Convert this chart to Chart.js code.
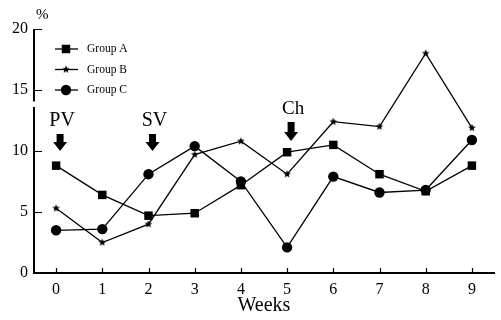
<!DOCTYPE html>
<html><head><meta charset="utf-8">
<script src="https://cdn.jsdelivr.net/npm/chart.js@4/dist/chart.umd.min.js"></script>
<style>html,body{margin:0;padding:0;background:#fff}</style>
</head><body>
<canvas id="c" width="501" height="320" style="width:501px;height:320px;display:block"></canvas>
<script>
const weeks = [0,1,2,3,4,5,6,7,8,9];
const groupA = [8.8,6.4,4.7,4.9,7.2,9.9,10.5,8.1,6.7,8.8];
const groupB = [5.3,2.5,4.0,9.7,10.8,8.1,12.4,12.0,18.0,11.9];
const groupC = [3.5,3.6,8.1,10.4,7.5,2.1,7.9,6.6,6.8,10.9];
const seriesNames = ['Group A','Group B','Group C'];
const yTicks = [0,5,10,15,20];
const eventLabels = ['PV','SV','Ch'];
const eventWeeks = [0,2,5];

const SERIF = '"Liberation Serif", "DejaVu Serif", serif';

function starImg(r){
  const c=document.createElement('canvas'); const s=Math.ceil(r*2+2);
  c.width=s;c.height=s; const x=c.getContext('2d'); x.fillStyle='#000';
  x.beginPath();
  for(let i=0;i<10;i++){const a=-Math.PI/2+i*Math.PI/5; const rr=i%2?r*0.45:r; x.lineTo(s/2+rr*Math.cos(a), s/2+rr*Math.sin(a));}
  x.closePath(); x.fill(); return c;
}
const star = starImg(4);
const styles = [
  {pointStyle:'rect', pointRadius:6},
  {pointStyle:star, pointRadius:4},
  {pointStyle:'circle', pointRadius:5.2}
];
const seriesData = [groupA, groupB, groupC];

const datasets = seriesData.map((vals,i)=>({
  label: seriesNames[i],
  data: weeks.map((w,j)=>({x:w, y:vals[j]})),
  borderColor:'#000', backgroundColor:'#000', borderWidth:1.3,
  pointStyle: styles[i].pointStyle, pointRadius: styles[i].pointRadius,
  pointBorderWidth:0, showLine:true, tension:0
}));

function arrow(ctx, cx, top, h){
  const sw=3.5, hw=7, hh=9;
  ctx.beginPath();
  ctx.moveTo(cx-sw, top); ctx.lineTo(cx+sw, top);
  ctx.lineTo(cx+sw, top+h-hh); ctx.lineTo(cx+hw, top+h-hh);
  ctx.lineTo(cx, top+h); ctx.lineTo(cx-hw, top+h-hh);
  ctx.lineTo(cx-sw, top+h-hh); ctx.closePath(); ctx.fill();
}

const deco = {
  id:'deco',
  beforeDatasetsDraw(chart){
    const ctx=chart.ctx, xs=chart.scales.x, ys=chart.scales.y, ca=chart.chartArea;
    ctx.save(); ctx.strokeStyle='#000'; ctx.lineWidth=2;
    const ax = ca.left+1;
    ctx.beginPath();
    ctx.moveTo(ax, ys.getPixelForValue(20)); ctx.lineTo(ax, ys.getPixelForValue(14.05));
    ctx.moveTo(ax, ys.getPixelForValue(13.6)); ctx.lineTo(ax, ys.getPixelForValue(0)+1);
    ctx.stroke();
    const by = ys.getPixelForValue(0);
    ctx.beginPath(); ctx.moveTo(ax-1, by); ctx.lineTo(ca.right, by); ctx.stroke();
    ctx.lineWidth=1.2;
    ctx.beginPath();
    yTicks.forEach(v=>{const y=Math.round(ys.getPixelForValue(v))+0.5; ctx.moveTo(ax, y); ctx.lineTo(ax+8, y);});
    weeks.forEach(v=>{const x=Math.round(xs.getPixelForValue(v))+0.5; ctx.moveTo(x, by); ctx.lineTo(x, by-5);});
    ctx.stroke();
    ctx.restore();
  },
  afterDraw(chart){
    const ctx=chart.ctx, xs=chart.scales.x;
    ctx.save(); ctx.fillStyle='#000'; ctx.strokeStyle='#000';
    eventLabels.forEach((lab,i)=>{
      const x = xs.getPixelForValue(eventWeeks[i]);
      const isCh = i===2;
      ctx.font = (isCh?19:20)+'px '+SERIF;
      ctx.textAlign='center'; ctx.textBaseline='alphabetic';
      ctx.fillText(lab, x+6, isCh?114:126);
      arrow(ctx, x+4, isCh?122:134, isCh?19:17);
    });
    ctx.font='15px '+SERIF; ctx.textAlign='left'; ctx.textBaseline='alphabetic';
    ctx.fillText('%', 36, 19);
    chart.data.datasets.forEach((ds,i)=>{
      const y = 49 + i*20.5;
      ctx.lineWidth=1.3;
      ctx.beginPath(); ctx.moveTo(55,y); ctx.lineTo(78,y); ctx.stroke();
      Chart.helpers.drawPoint(ctx, {pointStyle:ds.pointStyle, radius:ds.pointRadius, borderWidth:0}, 66, y);
      ctx.font='11.5px '+SERIF; ctx.textAlign='left'; ctx.textBaseline='middle';
      ctx.fillText(ds.label, 87, y);
    });
    ctx.restore();
  }
};

new Chart(document.getElementById('c'), {
  type:'scatter',
  data:{datasets},
  options:{
    responsive:false, devicePixelRatio:1, animation:false,
    layout:{padding:{top:29,right:1,left:0,bottom:0}},
    plugins:{legend:{display:false}, tooltip:{enabled:false}},
    scales:{
      x:{type:'linear', min:-0.5, max:9.5,
        afterBuildTicks(s){ s.ticks = weeks.map(v=>({value:v})); },
        afterFit(s){ s.height = 47; },
        grid:{display:false, drawTicks:false}, border:{display:false},
        ticks:{color:'#000', font:{family:SERIF, size:16}, padding:7},
        title:{display:true, text:'Weeks', color:'#000', font:{family:SERIF, size:20}, padding:{top:0,bottom:2}}
      },
      y:{type:'linear', min:0, max:20,
        afterBuildTicks(s){ s.ticks = yTicks.map(v=>({value:v})); },
        afterFit(s){ s.width = 33; },
        grid:{display:false, drawTicks:false}, border:{display:false},
        ticks:{color:'#000', font:{family:SERIF, size:16}, padding:5}
      }
    }
  },
  plugins:[deco]
});
</script>
</body></html>
